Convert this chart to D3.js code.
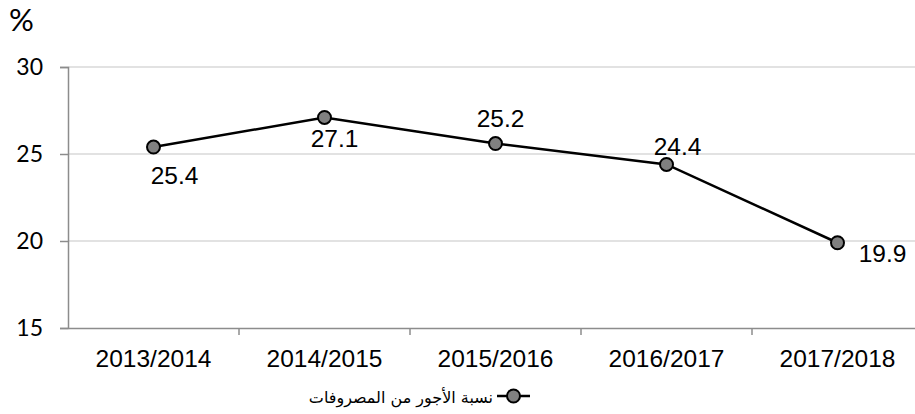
<!DOCTYPE html>
<html>
<head>
<meta charset="utf-8">
<script src="https://cdn.jsdelivr.net/npm/d3@7"></script>
<style>
  html, body { margin: 0; padding: 0; background: #fff; }
  svg { display: block; }
</style>
</head>
<body>
<div id="chart"></div>
<script>
// données
const categories = ["2013/2014", "2014/2015", "2015/2016", "2016/2017", "2017/2018"];
const values = [25.4, 27.1, 25.6, 24.4, 19.9];
const valueLabels = ["25.4", "27.1", "25.2", "24.4", "19.9"];
const yTicks = [15, 20, 25, 30];
const seriesName = "نسبة الأجور من المصروفات";
const unitLabel = "%";

const WIDTH = 915, HEIGHT = 414;
const PLOT = { left: 68, right: 923, top: 67, bottom: 328 };
// décalage des étiquettes par rapport au point [dx, dy baseline]
const LABEL_OFFSETS = [[21, 37], [10, 30], [5, -17], [11, -9], [45, 19]];

const svg = d3.select("#chart").append("svg")
    .attr("width", WIDTH)
    .attr("height", HEIGHT);

const x = d3.scaleBand()
    .domain(categories)
    .range([PLOT.left, PLOT.right])
    .padding(0);

const y = d3.scaleLinear()
    .domain([15, 30])
    .range([PLOT.bottom, PLOT.top]);

// grille horizontale
svg.append("g")
    .selectAll("line")
    .data(yTicks.filter(d => d > 15))
    .join("line")
    .attr("x1", PLOT.left)
    .attr("x2", PLOT.right)
    .attr("y1", d => y(d))
    .attr("y2", d => y(d))
    .attr("stroke", "#d9d9d9")
    .attr("stroke-width", 1.5);

// axe Y
const yAxis = svg.append("g")
    .attr("transform", `translate(${PLOT.left},0)`)
    .call(d3.axisLeft(y).tickValues(yTicks).tickSize(8).tickPadding(17).tickFormat(d3.format("d")));
yAxis.select(".domain").attr("stroke", "#8c8c8c").attr("stroke-width", 1.5);
yAxis.selectAll(".tick line").attr("stroke", "#8c8c8c").attr("stroke-width", 1.5);
yAxis.selectAll(".tick text")
    .attr("fill", "#000")
    .style("font-family", "Lato, 'Open Sans', sans-serif")
    .style("font-size", "23px");

// axe X
const xAxis = svg.append("g")
    .attr("transform", `translate(0,${PLOT.bottom})`)
    .call(d3.axisBottom(x).tickSize(0).tickPadding(22));
xAxis.select(".domain").attr("stroke", "#8c8c8c").attr("stroke-width", 1.5);
xAxis.selectAll(".tick text")
    .attr("fill", "#000")
    .style("font-family", "'Liberation Sans', Arial, sans-serif")
    .style("font-size", "24.5px");

// graduations entre catégories
svg.append("g")
    .selectAll("line")
    .data(categories.slice(1))
    .join("line")
    .attr("x1", d => x(d))
    .attr("x2", d => x(d))
    .attr("y1", PLOT.bottom)
    .attr("y2", PLOT.bottom + 7)
    .attr("stroke", "#8c8c8c")
    .attr("stroke-width", 1.5);

// unité
svg.append("text")
    .attr("x", 9)
    .attr("y", 31)
    .attr("fill", "#000")
    .style("font-family", "Lato, sans-serif")
    .style("font-size", "31px")
    .text(unitLabel);

// courbe
const line = d3.line()
    .x((d, i) => x(categories[i]) + x.bandwidth() / 2)
    .y(d => y(d));

svg.append("path")
    .datum(values)
    .attr("d", line)
    .attr("fill", "none")
    .attr("stroke", "#000")
    .attr("stroke-width", 2.5);

svg.append("g")
    .selectAll("circle")
    .data(values)
    .join("circle")
    .attr("cx", (d, i) => x(categories[i]) + x.bandwidth() / 2)
    .attr("cy", d => y(d))
    .attr("r", 6.5)
    .attr("fill", "#808080")
    .attr("stroke", "#000")
    .attr("stroke-width", 2);

// étiquettes
svg.append("g")
    .selectAll("text")
    .data(values)
    .join("text")
    .attr("x", (d, i) => x(categories[i]) + x.bandwidth() / 2 + LABEL_OFFSETS[i][0])
    .attr("y", (d, i) => y(d) + LABEL_OFFSETS[i][1])
    .attr("text-anchor", "middle")
    .attr("fill", "#000")
    .style("font-family", "'Liberation Sans', Arial, sans-serif")
    .style("font-size", "24.5px")
    .text((d, i) => valueLabels[i]);

// légende
const legendX = 497, legendY = 396;
svg.append("line")
    .attr("x1", legendX)
    .attr("x2", legendX + 33)
    .attr("y1", legendY)
    .attr("y2", legendY)
    .attr("stroke", "#000")
    .attr("stroke-width", 2.5);
svg.append("circle")
    .attr("cx", legendX + 16.5)
    .attr("cy", legendY)
    .attr("r", 6.5)
    .attr("fill", "#808080")
    .attr("stroke", "#000")
    .attr("stroke-width", 2);
svg.append("text")
    .attr("x", legendX - 4)
    .attr("y", legendY + 7)
    .attr("text-anchor", "end")
    .attr("fill", "#000")
    .style("font-family", "'DejaVu Sans', sans-serif")
    .style("font-size", "16px")
    .text(seriesName);
</script>
</body>
</html>
